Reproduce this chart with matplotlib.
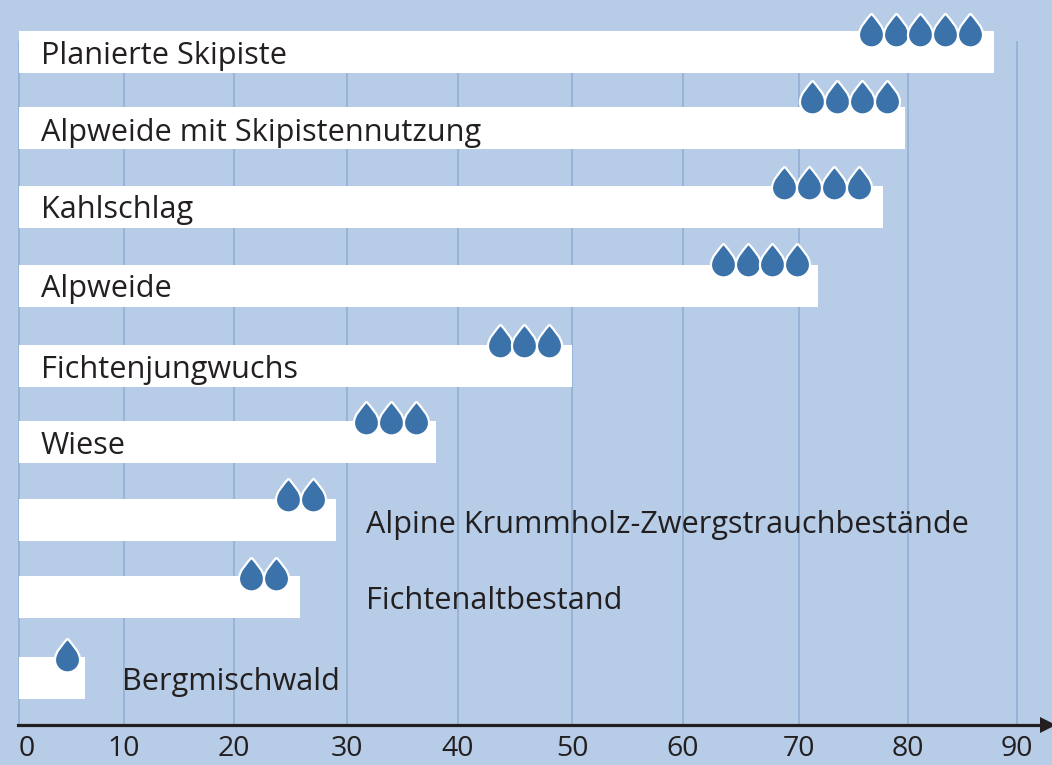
import numpy as np
import matplotlib
matplotlib.use("Agg")
import matplotlib.pyplot as plt
from matplotlib.path import Path
from matplotlib.markers import MarkerStyle
from matplotlib.font_manager import FontProperties

# ---- data ----
categories = ["Planierte Skipiste", "Alpweide mit Skipistennutzung", "Kahlschlag", "Alpweide",
              "Fichtenjungwuchs", "Wiese", "Alpine Krummholz-Zwergstrauchbestände",
              "Fichtenaltbestand", "Bergmischwald"]
values = [87.9, 79.7, 77.7, 71.7, 50.0, 38.0, 29.0, 25.8, 6.3]
drop_counts = [5, 4, 4, 4, 3, 3, 2, 2, 1]
tick_values = [0, 10, 20, 30, 40, 50, 60, 70, 80, 90]
tick_labels = ["0", "10", "20", "30", "40", "50", "60", "70", "80", "90"]

# ---- layout (pixels of the 1052x765 canvas) ----
W, H = 1052, 765
AXIS_Y = 724.5
tick_px = [19, 123.5, 234, 347, 458, 572, 683, 799, 908, 1017]
bar_centre = [52, 128, 207, 286, 366, 442, 520, 597, 678]
bar_h = 42
label_x = [41, 41, 41, 41, 41, 41, 366, 366, 122]
label_y = [56, 133, 210, 289, 370, 446, 525, 601, 682]
drop_last_x = [969.7, 886.5, 858.5, 797, 549, 415.8, 312.7, 276, 67]
drop_y = [29.5, 97, 183, 260, 341, 418, 495, 574, 655]
drop_step = 24.7

BG = "#b6cce7"
GRID = "#8fadd2"
INK = "#231f20"
DROP = "#3b72a9"

knot_v = np.array([-10.0] + tick_values + [100.0])
knot_p = np.array([tick_px[0] - 110.9] + tick_px + [tick_px[-1] + 110.9])
forward = lambda v: np.interp(v, knot_v, knot_p)
inverse = lambda p: np.interp(p, knot_p, knot_v)

fig = plt.figure(figsize=(W / 100, H / 100), dpi=100, facecolor=BG)
ax = fig.add_axes([0, 1 - AXIS_Y / H, 1, AXIS_Y / H], facecolor=BG)
ax.set_xscale("function", functions=(forward, inverse))
ax.set_xlim(inverse(0.0), inverse(float(W)))
ax.set_ylim(AXIS_Y, 0)

font = FontProperties(family="Open Sans", size=22.05)
tick_font = FontProperties(family="Open Sans", size=20.5)

# gridlines
ax.vlines(tick_values, 41, AXIS_Y, color=GRID, lw=1.1, zorder=1)

# bars
ax.barh(bar_centre, values, height=bar_h, left=0, color="white", lw=0, zorder=2)

# drops
t = [(0, 1), (0.30, 0.62), (0.74, 0.22), (0.74, -0.27),
     (0.74, -0.67), (0.40, -1), (0, -1),
     (-0.40, -1), (-0.74, -0.67), (-0.74, -0.27),
     (-0.74, 0.22), (-0.30, 0.62), (0, 1)]
codes = [Path.MOVETO] + [Path.CURVE4] * 12
drop_marker = MarkerStyle(Path(t, codes), joinstyle="round")
for n, last, yc in zip(drop_counts, drop_last_x, drop_y):
    xs_px = last - drop_step * np.arange(n)[::-1]
    ax.plot(inverse(xs_px), [yc] * n, ls="none", marker=drop_marker, ms=24.4,
            mfc=DROP, mec="white", mew=1.6, zorder=3, clip_on=False)

# category labels
xf = ax.get_yaxis_transform()
for name, lx, ly in zip(categories, label_x, label_y):
    ax.text(lx / W, ly, name, transform=xf, ha="left", va="center",
            color=INK, fontproperties=font, zorder=4)

# axis
for s in ["top", "left", "right"]:
    ax.spines[s].set_visible(False)
ax.spines["bottom"].set_color(INK)
ax.spines["bottom"].set_linewidth(2.3)
ax.spines["bottom"].set_bounds(inverse(18.0), inverse(1046.0))
ax.spines["bottom"].set_zorder(5)
ax.plot([inverse(1048.0)], [AXIS_Y], marker=">", ms=12, color=INK, mew=0, clip_on=False, zorder=6)
ax.set_yticks([])
ax.set_xticks(tick_values, tick_labels)
ax.minorticks_off()
ax.tick_params(axis="x", length=0, pad=7.5, colors=INK)
for lab in ax.get_xticklabels():
    lab.set_fontproperties(tick_font)
    lab.set_color(INK)
first = ax.get_xticklabels()[0]
first.set_ha("left")

fig.savefig("out.png", dpi=100, facecolor=BG)
